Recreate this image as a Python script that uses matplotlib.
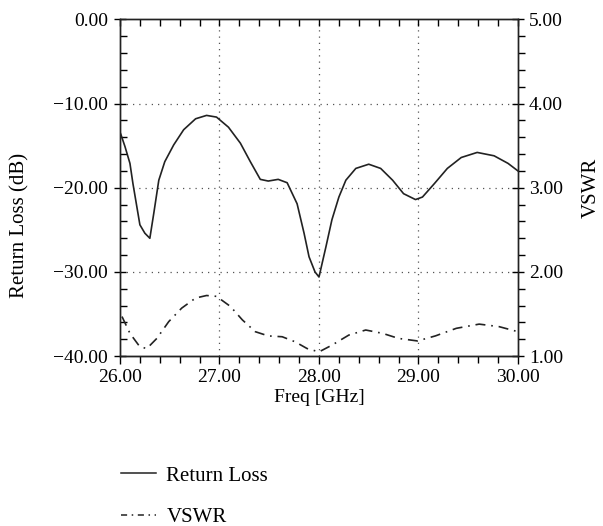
import numpy as np
from matplotlib import pyplot as plt
from matplotlib.ticker import MultipleLocator, FuncFormatter, NullFormatter
from matplotlib.lines import Line2D

plt.rcParams['font.family'] = ['Liberation Serif', 'DejaVu Serif']

# ===== Dados =====

freq_rl = [26.0, 26.01, 26.05, 26.10, 26.13, 26.17, 26.20, 26.25, 26.30, 26.34,
           26.39, 26.45, 26.54, 26.64, 26.76, 26.87, 26.97, 27.09, 27.21, 27.31,
           27.41, 27.49, 27.59, 27.68, 27.78, 27.85, 27.90, 27.96, 28.0, 28.07,
           28.13, 28.20, 28.27, 28.37, 28.50, 28.62, 28.74, 28.85, 28.97, 29.04,
           29.16, 29.29, 29.43, 29.59, 29.76, 29.90, 30.0]
return_loss = [-13.4, -13.7, -15.1, -17.1, -19.5, -22.3, -24.4, -25.4, -26.0, -23.0,
               -19.1, -16.9, -14.9, -13.1, -11.8, -11.4, -11.6, -12.8, -14.7, -16.9,
               -19.0, -19.2, -19.0, -19.4, -21.9, -25.4, -28.2, -30.0, -30.6, -27.0,
               -23.8, -21.1, -19.1, -17.7, -17.2, -17.7, -19.1, -20.7, -21.4, -21.1,
               -19.5, -17.7, -16.4, -15.8, -16.2, -17.1, -18.0]

freq_vswr = [26.02, 26.10, 26.20, 26.27, 26.37, 26.49, 26.62, 26.76, 26.87, 26.97,
             27.11, 27.23, 27.36, 27.49, 27.63, 27.76, 27.88, 28.0, 28.13, 28.30,
             28.47, 28.64, 28.80, 28.99, 29.17, 29.38, 29.61, 29.81, 30.0]
vswr = [1.47, 1.27, 1.11, 1.09, 1.21, 1.41, 1.57, 1.69, 1.72, 1.71,
        1.59, 1.43, 1.29, 1.24, 1.23, 1.17, 1.09, 1.05, 1.13, 1.25,
        1.31, 1.27, 1.21, 1.18, 1.24, 1.33, 1.38, 1.35, 1.29]

# ===== Plotagem =====

cor = '#222222'
fmt = FuncFormatter(lambda v, p: f'{v:.2f}'.replace('-', '\u2212'))

fig = plt.figure(figsize=(6.03, 5.26), dpi=100)
ax = fig.add_axes([0.199, 0.323, 0.660, 0.640])
ax2 = ax.twinx()

ax.plot(freq_rl, return_loss, color=cor, lw=1.2)
ax2.plot(freq_vswr, vswr, color=cor, lw=1.2, dashes=(6, 3.5, 1, 3.5))

ax.set_xlim(26, 30)
ax.set_ylim(-40, 0)
ax2.set_ylim(1, 5)

ax.xaxis.set_major_locator(MultipleLocator(0.2))
ax.xaxis.set_major_formatter(NullFormatter())
ax.yaxis.set_major_locator(MultipleLocator(10))
ax.yaxis.set_minor_locator(MultipleLocator(2))
ax2.yaxis.set_major_locator(MultipleLocator(1))
ax2.yaxis.set_minor_locator(MultipleLocator(0.2))
ax.yaxis.set_major_formatter(fmt)
ax2.yaxis.set_major_formatter(fmt)

# grade pontilhada nas divisões principais
for xg in [27, 28, 29]:
    ax.axvline(xg, linestyle=(0, (1, 4)), color='#555555', lw=0.9, zorder=0)
for yg in [-10, -20, -30]:
    ax.axhline(yg, linestyle=(0, (1, 4)), color='#555555', lw=0.9, zorder=0)

# eixo x: ticks de cima para dentro, de baixo para fora
ax.tick_params(axis='x', which='major', direction='in', length=5, width=1,
               top=True, bottom=False, labelbottom=False)
baixo = ax.secondary_xaxis('bottom')
baixo.xaxis.set_major_locator(MultipleLocator(1))
baixo.xaxis.set_minor_locator(MultipleLocator(0.2))
baixo.xaxis.set_major_formatter(fmt)
baixo.tick_params(which='major', direction='out', length=6, width=1, labelsize=14, pad=3)
baixo.tick_params(which='minor', direction='out', length=5, width=1)

ax.tick_params(axis='y', which='major', direction='inout', length=9, width=1,
               labelsize=14, right=False, pad=4)
ax.tick_params(axis='y', which='minor', direction='in', length=5, width=1, right=False)
ax2.tick_params(which='major', direction='inout', length=9, width=1, labelsize=14)
ax2.tick_params(which='minor', direction='out', length=5, width=1)

for a in (ax, ax2):
    for s in a.spines.values():
        s.set_color(cor)
        s.set_linewidth(1.0)
baixo.spines['bottom'].set_color(cor)

fig.text(319 / 603, 1 - 398 / 526, 'Freq [GHz]', fontsize=14, ha='center', va='center')
ax.set_ylabel('Return Loss (dB)', fontsize=15)
ax.yaxis.set_label_coords(-0.228, 0.389)
ax2.set_ylabel('VSWR', fontsize=15)
ax2.yaxis.set_label_coords(1.161, 0.5)

handles = [Line2D([], [], color=cor, lw=1.1),
           Line2D([], [], color=cor, lw=1.1, dashes=(4, 3, 1, 3))]
fig.legend(handles, ['Return Loss', 'VSWR'], loc='upper left',
           bbox_to_anchor=(0.200, 0.114), frameon=False, fontsize=15,
           handlelength=1.7, handletextpad=0.5, labelspacing=1.05,
           borderaxespad=0, borderpad=0)

fig.savefig('out.png', dpi=100)
